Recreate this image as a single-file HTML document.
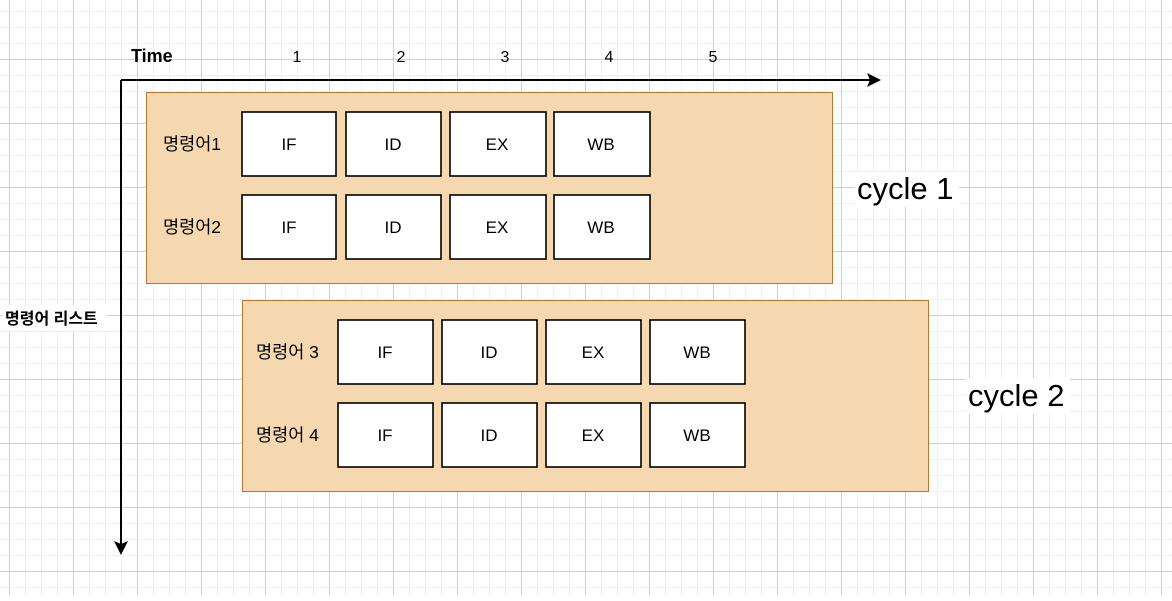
<!DOCTYPE html>
<html><head><meta charset="utf-8"><style>
body{margin:0;width:1172px;height:596px;overflow:hidden;background:#fff}
svg text{font-family:"Liberation Sans","Noto Sans CJK KR",sans-serif}
</style></head><body>
<svg width="1172" height="596" xmlns="http://www.w3.org/2000/svg">
<defs>
<pattern id="mi" x="9" y="11" width="16" height="16" patternUnits="userSpaceOnUse">
<path d="M0 0V16M0 0H16" stroke="#f0f0f0" stroke-width="2" fill="none"/></pattern>
<pattern id="ma" x="9" y="59" width="64" height="64" patternUnits="userSpaceOnUse">
<path d="M0.5 0V64M0 0.5H64" stroke="#d0d0d0" stroke-width="1" fill="none"/></pattern>
</defs>
<rect width="1172" height="596" fill="url(#mi)"/>
<rect width="1172" height="596" fill="url(#ma)"/>
<g stroke="#000" stroke-width="2" fill="none">
<path d="M121 80H870M121 80V545"/>
</g>
<path d="M881 80L867 73L870 80L867 87Z"/>
<path d="M121 555L114 541L121 544L128 541Z"/>
<text x="131" y="62" font-size="18" font-weight="bold">Time</text>
<g font-size="16" text-anchor="middle">
<text x="297" y="62">1</text><text x="401" y="62">2</text><text x="505" y="62">3</text><text x="609" y="62">4</text><text x="713" y="62">5</text>
</g>
<rect x="2" y="305" width="104" height="26" fill="#fff"/>
<text x="5" y="324" font-size="16" font-weight="bold">명령어 리스트</text>
<rect x="146.5" y="92.5" width="686" height="191" fill="#f5d7b0" stroke="#b8762f"/>
<rect x="242.5" y="300.5" width="686" height="191" fill="#f5d7b0" stroke="#b8762f"/>
<g fill="#fff" stroke="#000" stroke-width="1.6">
<rect x="242" y="112" width="94" height="64"/><rect x="346" y="112" width="95" height="64"/><rect x="450" y="112" width="96" height="64"/><rect x="554" y="112" width="96" height="64"/>
<rect x="242" y="195" width="94" height="64"/><rect x="346" y="195" width="95" height="64"/><rect x="450" y="195" width="96" height="64"/><rect x="554" y="195" width="96" height="64"/>
<rect x="338" y="320" width="95" height="64"/><rect x="442" y="320" width="95" height="64"/><rect x="546" y="320" width="95" height="64"/><rect x="650" y="320" width="95" height="64"/>
<rect x="338" y="403" width="95" height="64"/><rect x="442" y="403" width="95" height="64"/><rect x="546" y="403" width="95" height="64"/><rect x="650" y="403" width="95" height="64"/>
</g>
<g font-size="17" text-anchor="middle">
<text x="289" y="150">IF</text><text x="393" y="150">ID</text><text x="497" y="150">EX</text><text x="601" y="150">WB</text>
<text x="289" y="233">IF</text><text x="393" y="233">ID</text><text x="497" y="233">EX</text><text x="601" y="233">WB</text>
<text x="385" y="358">IF</text><text x="489" y="358">ID</text><text x="593" y="358">EX</text><text x="697" y="358">WB</text>
<text x="385" y="441">IF</text><text x="489" y="441">ID</text><text x="593" y="441">EX</text><text x="697" y="441">WB</text>
</g>
<g font-size="17.5">
<text x="163" y="150">명령어1</text><text x="163" y="233">명령어2</text>
<text x="256" y="358">명령어 3</text><text x="256" y="441">명령어 4</text>
</g>
<rect x="855" y="172" width="104" height="35" fill="#fff"/>
<rect x="966" y="378" width="104" height="36" fill="#fff"/>
<text x="857" y="199" font-size="31">cycle 1</text>
<text x="968" y="406" font-size="31">cycle 2</text>
</svg>
</body></html>
